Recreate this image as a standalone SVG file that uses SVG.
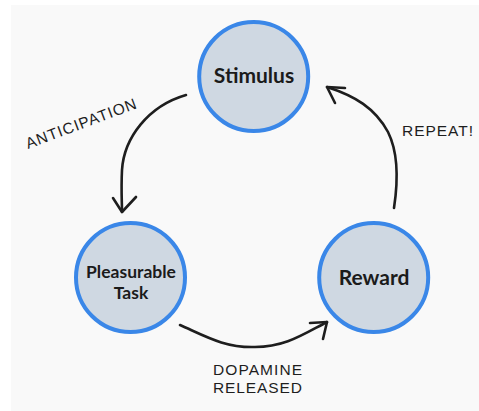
<svg xmlns="http://www.w3.org/2000/svg" width="479" height="411" viewBox="0 0 479 411">
  <defs>
    <style>
      .node-circle { fill: #cfd8e2; stroke: #3a87e8; stroke-width: 4; }
      .node-label { font-family: Lato, "Open Sans", "Liberation Sans", sans-serif; font-weight: 700; fill: #1b1b1b; text-anchor: middle; }
      .edge { fill: none; stroke: #1e1e1e; stroke-width: 2.6; stroke-linecap: round; stroke-linejoin: round; }
      .edge-label { font-family: "Liberation Sans", "DejaVu Sans", sans-serif; font-size: 15.5px; fill: #1e1e1e; }
    </style>
  </defs>

  <!-- canvas -->
  <rect x="0" y="0" width="479" height="411" fill="#ffffff"/>
  <rect x="11" y="5" width="468" height="406" fill="#f9f9f9"/>

  <!-- connectors -->
  <g id="connectors">
    <g id="edge-anticipation">
      <path class="edge" d="M186 95 C148 106 124 138 122 170 C121 190 122 202 122 212"/>
      <path class="edge" d="M113 198 L122 212 L136 197"/>
      <text class="edge-label" transform="translate(28 149) rotate(-20.5)" textLength="117" lengthAdjust="spacing">ANTICIPATION</text>
    </g>
    <g id="edge-dopamine">
      <path class="edge" d="M180 325 C205 336 225 348 255 347 C285 347 302 335 327 322"/>
      <path class="edge" d="M310 323 L327 322 L323 339"/>
      <text class="edge-label" x="213" y="375" textLength="89" lengthAdjust="spacing">DOPAMINE</text>
      <text class="edge-label" x="213" y="393" textLength="89" lengthAdjust="spacing">RELEASED</text>
    </g>
    <g id="edge-repeat">
      <path class="edge" d="M394 208 C399 175 397 150 388 132 C375 108 355 96 327 87"/>
      <path class="edge" d="M345 88 L327 87 L335 103"/>
      <text class="edge-label" x="402" y="136" textLength="71" lengthAdjust="spacing">REPEAT!</text>
    </g>
  </g>

  <!-- nodes -->
  <g id="node-stimulus">
    <circle class="node-circle" cx="253.7" cy="76.5" r="54.5"/>
    <text class="node-label" x="254" y="83" font-size="21">Stimulus</text>
  </g>
  <g id="node-pleasurable-task">
    <circle class="node-circle" cx="130.5" cy="277.5" r="54.5"/>
    <text class="node-label" x="131" y="278" font-size="17.5">Pleasurable</text>
    <text class="node-label" x="131" y="299" font-size="17.5">Task</text>
  </g>
  <g id="node-reward">
    <circle class="node-circle" cx="373.7" cy="277.5" r="54.5"/>
    <text class="node-label" x="374" y="285" font-size="21">Reward</text>
  </g>
</svg>
